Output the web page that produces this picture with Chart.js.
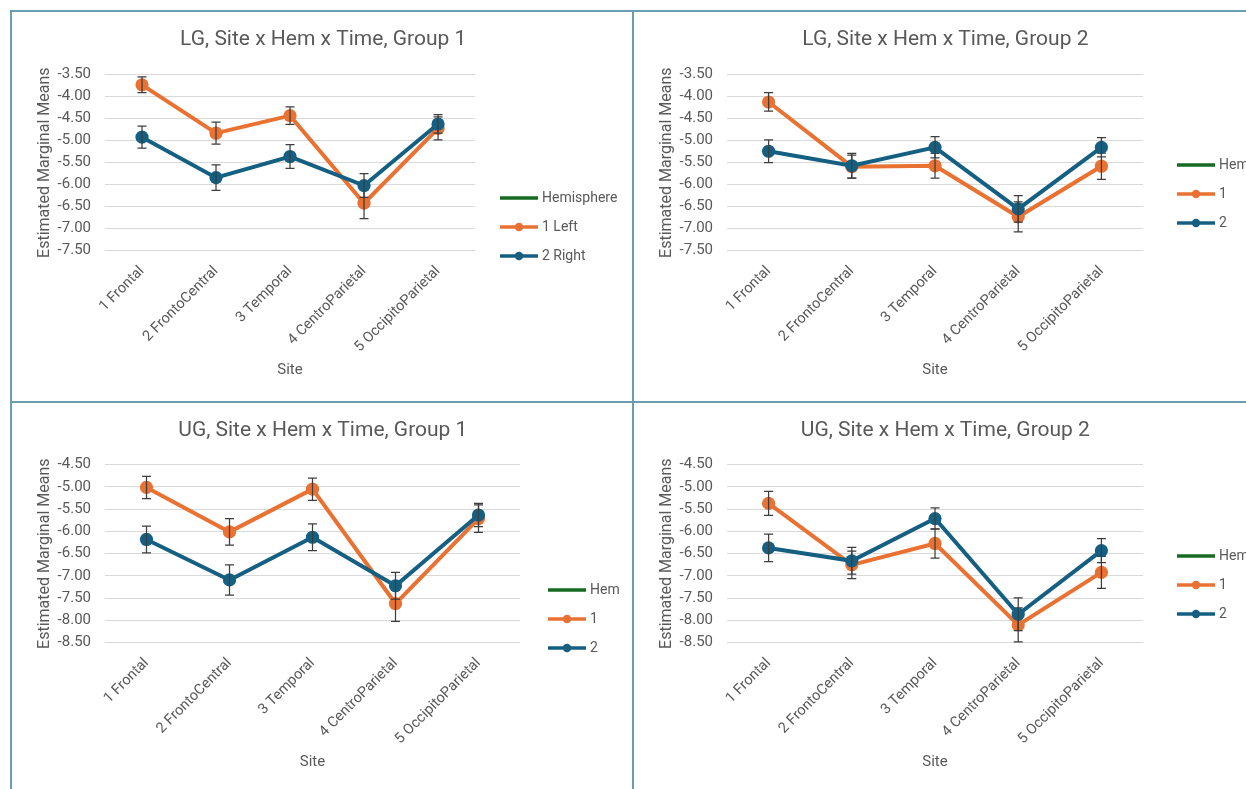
<!DOCTYPE html>
<html>
<head>
<meta charset="utf-8">
<title>Site x Hem x Time</title>
<script src="https://cdn.jsdelivr.net/npm/chart.js@4.4.1/dist/chart.umd.min.js"></script>
<style>
  html, body { margin: 0; padding: 0; background: #ffffff; }
  body { width: 1246px; height: 789px; position: relative; overflow: hidden; }
  .panel { position: absolute; }
  .panel canvas { display: block; }
  .rule { position: absolute; background: #6a9db1; }
</style>
</head>
<body>
<div class="rule" style="left:10px;top:10px;width:1236px;height:2px"></div>
<div class="rule" style="left:10px;top:10px;width:2px;height:779px"></div>
<div class="rule" style="left:632px;top:10px;width:2px;height:779px"></div>
<div class="rule" style="left:10px;top:401px;width:1236px;height:2px"></div>

<div class="panel" style="left:12px;top:12px;width:620px;height:389px"><canvas id="lg1"></canvas></div>
<div class="panel" style="left:634px;top:12px;width:612px;height:389px"><canvas id="lg2"></canvas></div>
<div class="panel" style="left:12px;top:403px;width:620px;height:386px"><canvas id="ug1"></canvas></div>
<div class="panel" style="left:634px;top:403px;width:612px;height:386px"><canvas id="ug2"></canvas></div>

<script>
// ---- data -------------------------------------------------------------
const sites = ['1 Frontal', '2 FrontoCentral', '3 Temporal', '4 CentroParietal', '5 OccipitoParietal'];

const legendNamesFull  = ['Hemisphere', '1 Left', '2 Right'];
const legendNamesShort = ['Hem', '1', '2'];

const lgRange = [-7.5, -3.5];
const ugRange = [-8.5, -4.5];
const tickStep = 0.5;

// LG, Group 1
const lgG1Left     = [-3.73, -4.83, -4.43, -6.42, -4.72];
const lgG1LeftErr  = [0.18, 0.25, 0.20, 0.35, 0.26];
const lgG1Right    = [-4.92, -5.84, -5.36, -6.02, -4.62];
const lgG1RightErr = [0.25, 0.29, 0.27, 0.27, 0.21];

// LG, Group 2
const lgG2Left     = [-4.12, -5.59, -5.57, -6.73, -5.58];
const lgG2LeftErr  = [0.21, 0.26, 0.28, 0.34, 0.30];
const lgG2Right    = [-5.24, -5.57, -5.15, -6.55, -5.15];
const lgG2RightErr = [0.26, 0.28, 0.24, 0.30, 0.22];

// UG, Group 1
const ugG1Left     = [-5.01, -6.01, -5.05, -7.62, -5.71];
const ugG1LeftErr  = [0.25, 0.30, 0.25, 0.40, 0.31];
const ugG1Right    = [-6.18, -7.09, -6.13, -7.22, -5.63];
const ugG1RightErr = [0.30, 0.34, 0.30, 0.30, 0.26];

// UG, Group 2
const ugG2Left     = [-5.37, -6.75, -6.27, -8.10, -6.92];
const ugG2LeftErr  = [0.27, 0.31, 0.33, 0.38, 0.36];
const ugG2Right    = [-6.37, -6.66, -5.71, -7.86, -6.43];
const ugG2RightErr = [0.31, 0.30, 0.24, 0.37, 0.27];

// ---- styling ----------------------------------------------------------
const ORANGE = '#E97132';
const BLUE   = '#156082';
const GREEN  = '#196B24';
const TEXT   = '#595959';
const GRID   = '#D9D9D9';
const ERRBAR = '#3d3d3d';

Chart.defaults.font.family = 'Roboto, "Liberation Sans", sans-serif';
Chart.defaults.color = TEXT;

// legend swatch: a short line, optionally with a marker dot in the middle
function legendSwatch(color, withDot) {
  const c = document.createElement('canvas');
  c.width = 38; c.height = 14;
  const g = c.getContext('2d');
  g.strokeStyle = color;
  g.lineWidth = 3.5;
  g.beginPath(); g.moveTo(0, 7); g.lineTo(38, 7); g.stroke();
  if (withDot) {
    g.fillStyle = color;
    g.beginPath(); g.arc(19, 7, 4.2, 0, Math.PI * 2); g.fill();
  }
  return c;
}

// vertical error bars with caps, drawn right after their own series
const errorBars = {
  id: 'errorBars',
  afterDatasetDraw(chart, args, opts) {
    const ds = chart.data.datasets[args.index];
    if (!ds.errors) return;
    const ys = chart.scales.y, xs = chart.scales.x, ctx = chart.ctx;
    const cap = opts.cap || 4;
    ctx.save();
    ctx.strokeStyle = opts.color || ERRBAR;
    ctx.lineWidth = opts.width || 1.25;
    ds.data.forEach((v, i) => {
      if (v == null) return;
      const e = ds.errors[i];
      const x = xs.getPixelForValue(i);
      const yTop = ys.getPixelForValue(v + e);
      const yBot = ys.getPixelForValue(v - e);
      ctx.beginPath();
      ctx.moveTo(x, yTop); ctx.lineTo(x, yBot);
      ctx.moveTo(x - cap, yTop); ctx.lineTo(x + cap, yTop);
      ctx.moveTo(x - cap, yBot); ctx.lineTo(x + cap, yBot);
      ctx.stroke();
    });
    ctx.restore();
  }
};

// place the legend block at a fixed spot beside the plot
const legendPlace = {
  id: 'legendPlace',
  afterLayout(chart, args, opts) {
    const lg = chart.legend;
    if (!lg || opts.x == null) return;
    const pad = lg.options.labels.padding;
    const fs = lg.options.labels.font.size;
    const w = lg.width, h = lg.height;
    lg.left = opts.x - pad;
    lg.right = lg.left + w;
    lg.top = opts.y - pad - fs / 2;
    lg.bottom = lg.top + h;
  }
};

function buildChart(id, spec) {
  const fmt = v => Number(v).toFixed(2);
  return new Chart(document.getElementById(id), {
    type: 'line',
    data: {
      labels: sites,
      datasets: [
        {
          label: spec.names[0], data: sites.map(() => null),
          borderColor: GREEN, backgroundColor: GREEN, swatchDot: false, order: 2
        },
        {
          label: spec.names[1], data: spec.left, errors: spec.leftErr,
          borderColor: ORANGE, backgroundColor: ORANGE, pointBackgroundColor: ORANGE,
          pointBorderColor: ORANGE, swatchDot: true, order: 1
        },
        {
          label: spec.names[2], data: spec.right, errors: spec.rightErr,
          borderColor: BLUE, backgroundColor: BLUE, pointBackgroundColor: BLUE,
          pointBorderColor: BLUE, swatchDot: true, order: 0
        }
      ]
    },
    options: {
      responsive: true,
      maintainAspectRatio: false,
      animation: false,
      devicePixelRatio: 1,
      events: [],
      elements: {
        line: { borderWidth: 4, tension: 0 },
        point: { radius: 6.6, borderWidth: 0, hoverRadius: 6.6 }
      },
      layout: { padding: { left: 20, right: spec.padRight, top: 0, bottom: 0 } },
      scales: {
        x: {
          type: 'category',
          offset: true,
          grid: { display: false },
          border: { display: false },
          ticks: {
            autoSkip: false, minRotation: 45, maxRotation: 45,
            color: TEXT, font: { size: 14.5 }, padding: 4
          },
          title: {
            display: true, text: 'Site', color: TEXT,
            font: { size: 15 }, padding: { top: 4, bottom: spec.siteBottom }
          },
          afterFit(scale) { scale.height = spec.xHeight; }
        },
        y: {
          type: 'linear',
          min: spec.range[0], max: spec.range[1],
          grid: { color: GRID, lineWidth: 1, drawTicks: false },
          border: { display: false },
          ticks: { stepSize: tickStep, callback: fmt, color: TEXT, font: { size: 15 }, padding: 14 },
          title: {
            display: true, text: 'Estimated Marginal Means', color: TEXT,
            font: { size: 16 }, padding: { top: 3, bottom: 3 }
          },
          afterFit(scale) { scale.width = 73; }
        }
      },
      plugins: {
        title: {
          display: true, text: spec.title, color: TEXT,
          font: { size: 21, weight: 'normal' },
          padding: { top: spec.titleTop, bottom: spec.titleBottom }
        },
        legend: {
          display: true,
          position: 'right',
          align: 'start',
          labels: {
            usePointStyle: true,
            pointStyleWidth: 32,
            padding: 15,
            color: TEXT,
            font: { size: 14 },
            sort: (a, b) => a.datasetIndex - b.datasetIndex,
            generateLabels(chart) {
              const items = Chart.defaults.plugins.legend.labels.generateLabels(chart);
              items.forEach(it => {
                const ds = chart.data.datasets[it.datasetIndex];
                it.pointStyle = legendSwatch(ds.borderColor, ds.swatchDot);
                it.fontColor = TEXT;
              });
              return items;
            }
          }
        },
        tooltip: { enabled: false },
        errorBars: { color: ERRBAR, width: 1.25, cap: 4.5 },
        legendPlace: { x: spec.legendX, y: spec.legendY }
      }
    },
    plugins: [errorBars, legendPlace]
  });
}

buildChart('lg1', {
  title: 'LG, Site x Hem x Time, Group 1', names: legendNamesFull, range: lgRange,
  left: lgG1Left, leftErr: lgG1LeftErr, right: lgG1Right, rightErr: lgG1RightErr,
  padRight: 17.6, xHeight: 150.3, siteBottom: 22, titleTop: 15.4, titleBottom: 22.1,
  legendX: 491, legendY: 186
});
buildChart('lg2', {
  title: 'LG, Site x Hem x Time, Group 2', names: legendNamesShort, range: lgRange,
  left: lgG2Left, leftErr: lgG2LeftErr, right: lgG2Right, rightErr: lgG2RightErr,
  padRight: 9.3, xHeight: 150.3, siteBottom: 22, titleTop: 15.4, titleBottom: 22.1,
  legendX: 546, legendY: 153
});
buildChart('ug1', {
  title: 'UG, Site x Hem x Time, Group 1', names: legendNamesShort, range: ugRange,
  left: ugG1Left, leftErr: ugG1LeftErr, right: ugG1Right, rightErr: ugG1RightErr,
  padRight: 18.3, xHeight: 146.3, siteBottom: 18, titleTop: 15.4, titleBottom: 21.1,
  legendX: 539, legendY: 187
});
buildChart('ug2', {
  title: 'UG, Site x Hem x Time, Group 2', names: legendNamesShort, range: ugRange,
  left: ugG2Left, leftErr: ugG2LeftErr, right: ugG2Right, rightErr: ugG2RightErr,
  padRight: 9.3, xHeight: 146.3, siteBottom: 18, titleTop: 15.4, titleBottom: 21.1,
  legendX: 546, legendY: 153
});
</script>
</body>
</html>
